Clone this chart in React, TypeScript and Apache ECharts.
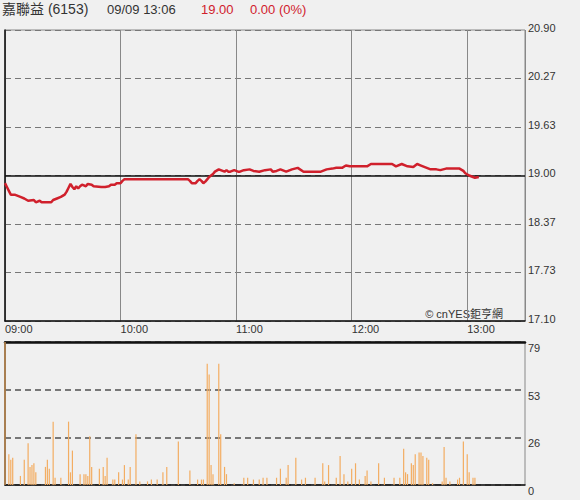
import React, { useEffect, useRef } from "react";
import * as echarts from "echarts";

// ---- header info ----
const stockName = "嘉聯益";
const stockCode = "(6153)";
const dateTime = "09/09 13:06";
const lastPrice = "19.00";
const changeText = "0.00 (0%)";
const watermark = "© cnYES鉅亨網";

// ---- axes ----
const prevClose = 19.0;
const priceMin = 17.1;
const priceMax = 20.9;
const volMax = 79;
const sessionMinutes = 270; // 09:00 - 13:30

// ---- price (minutes after 09:00, price) ----
const priceMinutes = [
  0, 1, 2, 3, 5, 8, 10, 12, 15, 16, 18, 19, 24, 25, 27, 29, 31, 32, 33, 34, 35, 36, 37, 38, 39, 40, 42, 43, 45, 46,
  50, 52, 54, 55, 57, 58, 60, 61, 62, 95, 96, 97, 99, 100, 101, 102, 103, 104, 105, 106, 108, 109, 111, 112, 114,
  115, 116, 117, 119, 121, 122, 124, 127, 129, 132, 135, 138, 139, 141, 143, 146, 149, 152, 155, 160, 164, 167, 170,
  172, 175, 177, 179, 184, 188, 190, 195, 201, 203, 206, 209, 212, 214, 216, 218, 221, 224, 226, 229, 236, 238, 239,
  241, 243, 244, 246,
];
const priceValues = [
  18.9, 18.85, 18.8, 18.75, 18.75, 18.72, 18.7, 18.67, 18.68, 18.65, 18.67, 18.65, 18.65, 18.68, 18.7, 18.72, 18.75,
  18.79, 18.84, 18.89, 18.85, 18.82, 18.86, 18.83, 18.86, 18.88, 18.86, 18.89, 18.88, 18.86, 18.85, 18.85, 18.86,
  18.88, 18.88, 18.9, 18.9, 18.93, 18.95, 18.95, 18.93, 18.9, 18.9, 18.93, 18.95, 18.93, 18.9, 18.92, 18.95, 18.98,
  19.02, 19.05, 19.08, 19.07, 19.05, 19.07, 19.05, 19.05, 19.07, 19.05, 19.05, 19.07, 19.08, 19.06, 19.05, 19.07,
  19.08, 19.05, 19.06, 19.08, 19.05, 19.08, 19.1, 19.05, 19.05, 19.05, 19.08, 19.09, 19.1, 19.1, 19.13, 19.12, 19.12,
  19.12, 19.15, 19.15, 19.15, 19.12, 19.15, 19.12, 19.11, 19.15, 19.13, 19.11, 19.08, 19.08, 19.07, 19.09, 19.09,
  19.06, 19.03, 19.0, 18.98, 18.97, 18.98,
];

// ---- volume (minutes after 09:00, lots) ----
const volMinutes = [
  0, 2, 3, 4, 8, 10, 12, 13, 14, 15, 16, 21, 22, 23, 25, 26, 29, 33, 34, 35, 39, 41, 42, 43, 44, 45, 49, 51, 52, 53,
  56, 57, 59, 61, 62, 64, 65, 68, 70, 74, 76, 79, 82, 84, 90, 96, 100, 102, 103, 105, 106, 107, 108, 111, 112, 114,
  115, 119, 124, 126, 129, 132, 134, 136, 141, 143, 146, 147, 151, 154, 156, 161, 165, 166, 168, 172, 174, 176, 178,
  180, 182, 184, 187, 188, 190, 194, 197, 202, 205, 207, 208, 209, 211, 212, 213, 215, 216, 217, 219, 220, 222, 227,
  228, 229, 231, 235, 236, 238, 240, 241, 243, 244,
];
const volValues = [
  79, 17, 14, 15, 5, 14, 23, 10, 11, 12, 7, 10, 14, 9, 35, 4, 4, 35, 7, 19, 6, 6, 6, 5, 27, 10, 9, 10, 5, 15, 3, 3,
  7, 3, 11, 3, 10, 28, 2, 2, 3, 3, 7, 10, 24, 8, 3, 3, 3, 67, 61, 11, 6, 67, 28, 10, 6, 1, 4, 4, 3, 3, 4, 4, 4, 9, 4,
  11, 15, 3, 4, 4, 12, 2, 11, 4, 16, 6, 2, 9, 12, 3, 5, 8, 2, 12, 4, 4, 4, 20, 7, 6, 12, 11, 17, 18, 18, 16, 15, 14,
  1, 2, 21, 4, 2, 3, 4, 24, 17, 7, 4, 4,
];

const FONT = 'Arial, "Liberation Sans", "Noto Sans CJK TC", sans-serif';

function fmtTime(v: number): string {
  if (v >= sessionMinutes) return "";
  const h = 9 + Math.floor(v / 60);
  const m = Math.round(v % 60);
  return (h < 10 ? "0" + h : "" + h) + ":" + (m < 10 ? "0" + m : "" + m);
}

export default function App() {
  const ref = useRef<HTMLDivElement>(null);
  useEffect(() => {
    if (!ref.current) return;
    const chart = echarts.init(ref.current, undefined, { renderer: "svg" });
    const priceData = priceMinutes.map((m, i) => [m, priceValues[i]]);
    const volData = volMinutes.map((m, i) => [m, volValues[i]]);
    const red = "#d0202c";
    const option: any = {
      animation: false,
      backgroundColor: "#f0f0f0",
      textStyle: { fontFamily: FONT },
      grid: [
        { left: 5, top: 30, width: 520, height: 291, show: true, borderColor: "#888", borderWidth: 1 },
        { left: 5, top: 342, width: 520, height: 143, show: true, borderColor: "#888", borderWidth: 1 },
      ],
      xAxis: [
        {
          gridIndex: 0,
          type: "value",
          min: 0,
          max: sessionMinutes,
          interval: 60,
          axisLine: { show: true, onZero: false, lineStyle: { color: "#111", width: 1.5 } },
          axisTick: { show: false },
          axisLabel: {
            formatter: fmtTime,
            align: "left",
            margin: 2,
            color: "#333",
            fontSize: 11,
            fontFamily: FONT,
          },
          splitLine: { show: true, lineStyle: { color: "#888", width: 1 } },
        },
        {
          gridIndex: 1,
          type: "value",
          min: 0,
          max: sessionMinutes,
          interval: 60,
          axisLine: { show: true, onZero: false, lineStyle: { color: "#111", width: 1.5 } },
          axisTick: { show: false },
          axisLabel: { show: false },
          splitLine: { show: false },
        },
        {
          gridIndex: 1,
          type: "value",
          position: "top",
          min: 0,
          max: sessionMinutes,
          interval: 60,
          axisLine: { show: true, onZero: false, lineStyle: { color: "#111", width: 2.5 } },
          axisTick: { show: false },
          axisLabel: { show: false },
          splitLine: { show: false },
        },
      ],
      yAxis: [
        {
          gridIndex: 0,
          type: "value",
          position: "right",
          min: priceMin,
          max: priceMax,
          interval: (priceMax - priceMin) / 6,
          axisLine: { show: true, lineStyle: { color: "#111", width: 1.5 } },
          axisTick: { show: false },
          axisLabel: {
            formatter: (v: number) => v.toFixed(2),
            margin: 3,
            verticalAlign: "bottom",
            lineHeight: 5,
            color: "#333",
            fontSize: 11,
            fontFamily: FONT,
          },
          splitLine: { show: true, lineStyle: { color: "#777", width: 1, type: [6, 4] } },
        },
        {
          gridIndex: 1,
          type: "value",
          position: "right",
          min: 0,
          max: volMax,
          interval: volMax / 3,
          axisLine: { show: true, lineStyle: { color: "#111", width: 1.5 } },
          axisTick: { show: false },
          axisLabel: {
            formatter: (v: number) => String(Math.round(v)),
            margin: 3,
            verticalAlign: "top",
            lineHeight: 12,
            color: "#333",
            fontSize: 11,
            fontFamily: FONT,
          },
          splitLine: { show: true, lineStyle: { color: "#777", width: 2, type: [6, 4] } },
        },
      ],
      series: [
        {
          type: "line",
          xAxisIndex: 0,
          yAxisIndex: 0,
          data: priceData,
          showSymbol: false,
          symbol: "none",
          lineStyle: { color: red, width: 2.5 },
          z: 5,
          markLine: {
            silent: true,
            symbol: "none",
            label: { show: false },
            lineStyle: { color: "#111", type: "solid", width: 1.5 },
            data: [{ yAxis: prevClose }],
            z: 3,
          },
        },
        {
          type: "bar",
          xAxisIndex: 1,
          yAxisIndex: 1,
          data: volData,
          barWidth: 1.2,
          itemStyle: { color: "#f3ad62" },
        },
      ],
      graphic: [
        { type: "text", left: 2, top: 2, style: { text: stockName + " " + stockCode, fill: "#333", font: "14px " + FONT } },
        { type: "text", left: 107, top: 3, style: { text: dateTime, fill: "#333", font: "13px " + FONT } },
        { type: "text", left: 201, top: 3, style: { text: lastPrice, fill: red, font: "13px " + FONT } },
        { type: "text", left: 250, top: 3, style: { text: changeText, fill: red, font: "13px " + FONT } },
        { type: "text", right: 77, top: 308, style: { text: watermark, fill: "#333", font: "11px " + FONT } },
      ],
    };
    chart.setOption(option);
    return () => chart.dispose();
  }, []);
  return (
    <div
      ref={ref}
      style={{ position: "absolute", left: 0, top: 0, width: 580, height: 500, background: "#f0f0f0" }}
    />
  );
}
